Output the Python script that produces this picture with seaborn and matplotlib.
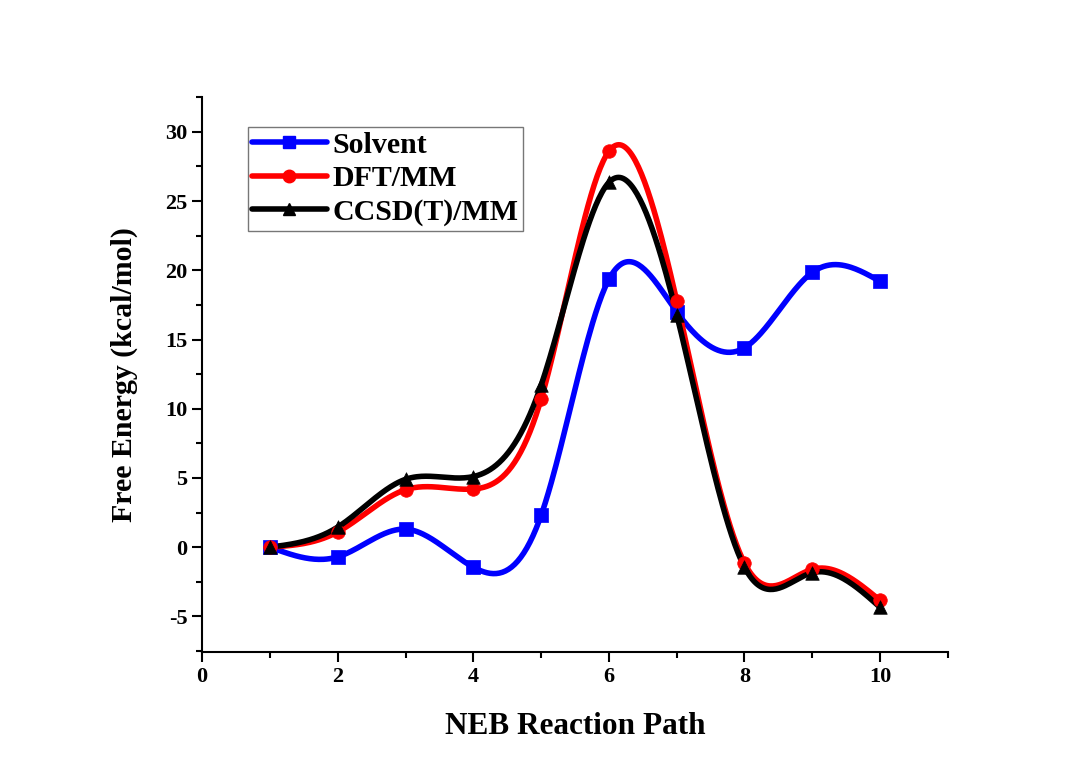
import numpy as np
import matplotlib
matplotlib.use("Agg")
import matplotlib.pyplot as plt
import seaborn as sns
from matplotlib.lines import Line2D
from matplotlib.ticker import MultipleLocator

steps = [1, 2, 3, 4, 5, 6, 7, 8, 9, 10]
solvent = [0.0, -0.7, 1.3, -1.45, 2.3, 19.35, 17.0, 14.4, 19.85, 19.2]
dft_mm = [0.0, 1.1, 4.15, 4.2, 10.7, 28.6, 17.8, -1.15, -1.6, -3.85]
ccsd_mm = [0.0, 1.45, 4.9, 5.1, 11.7, 26.35, 16.8, -1.45, -1.85, -4.35]

series = [
    ("Solvent", solvent, "#0000ff", "s"),
    ("DFT/MM", dft_mm, "#ff0000", "o"),
    ("CCSD(T)/MM", ccsd_mm, "#000000", "^"),
]


def smooth(x, y, n=400):
    """Natural cubic spline through the points, used only to draw the curve."""
    x = np.asarray(x, float)
    y = np.asarray(y, float)
    k = len(x)
    h = np.diff(x)
    A = np.zeros((k, k))
    b = np.zeros(k)
    A[0, 0] = A[-1, -1] = 1
    for i in range(1, k - 1):
        A[i, i - 1] = h[i - 1]
        A[i, i] = 2 * (h[i - 1] + h[i])
        A[i, i + 1] = h[i]
        b[i] = 3 * ((y[i + 1] - y[i]) / h[i] - (y[i] - y[i - 1]) / h[i - 1])
    c = np.linalg.solve(A, b)
    bb = (y[1:] - y[:-1]) / h - h * (2 * c[:-1] + c[1:]) / 3
    d = (c[1:] - c[:-1]) / (3 * h)
    xs = np.linspace(x[0], x[-1], n)
    idx = np.clip(np.searchsorted(x, xs) - 1, 0, k - 2)
    dx = xs - x[idx]
    ys = y[idx] + bb[idx] * dx + c[idx] * dx ** 2 + d[idx] * dx ** 3
    return xs, ys


sns.set_style("ticks", {"axes.edgecolor": "black", "text.color": "black",
                        "axes.labelcolor": "black", "xtick.color": "black",
                        "ytick.color": "black"})
plt.rcParams["font.family"] = ["Liberation Serif", "DejaVu Serif"]
plt.rcParams["font.weight"] = "bold"
plt.rcParams["axes.unicode_minus"] = False

fig = plt.figure(figsize=(10.87, 7.72), dpi=100)
ax = fig.add_axes([0.186, 0.155, 0.686, 0.719])

handles = []
for name, vals, color, marker in series:
    xs, ys = smooth(steps, vals)
    sns.lineplot(x=xs, y=ys, color=color, lw=4, ax=ax, sort=False)
    sns.scatterplot(x=steps, y=vals, color=color, marker=marker, s=95,
                    edgecolor=color, linewidth=0.5, ax=ax, zorder=3)
    handles.append(Line2D([], [], color=color, lw=4, marker=marker,
                          markersize=9, label=name))

ax.set_xlim(0, 11)
ax.set_ylim(-7.6, 32.5)
ax.xaxis.set_major_locator(MultipleLocator(2))
ax.xaxis.set_minor_locator(MultipleLocator(1))
ax.yaxis.set_major_locator(MultipleLocator(5))
ax.yaxis.set_minor_locator(MultipleLocator(2.5))
ax.tick_params(which="major", length=7, width=1.5, labelsize=16, direction="out")
ax.tick_params(which="minor", length=4, width=1.5, direction="out")
for lab in ax.get_xticklabels() + ax.get_yticklabels():
    lab.set_fontweight("bold")
for s in ["left", "bottom"]:
    ax.spines[s].set_linewidth(1.5)
sns.despine(ax=ax)

ax.set_xlabel("NEB Reaction Path", fontsize=22.5, fontweight="bold", labelpad=18)
ax.set_ylabel("Free Energy (kcal/mol)", fontsize=21.5, fontweight="bold", labelpad=20)

leg = ax.legend(handles=handles, loc="upper left", bbox_to_anchor=(0.061, 0.946),
                fontsize=21.5, frameon=True, fancybox=False, handlelength=2.5,
                borderpad=0.15, labelspacing=0.22, handletextpad=0.2,
                borderaxespad=0)
leg.get_frame().set_edgecolor("#555555")
leg.get_frame().set_linewidth(1.0)
for t in leg.get_texts():
    t.set_fontweight("bold")

fig.savefig("out.png", dpi=100)
